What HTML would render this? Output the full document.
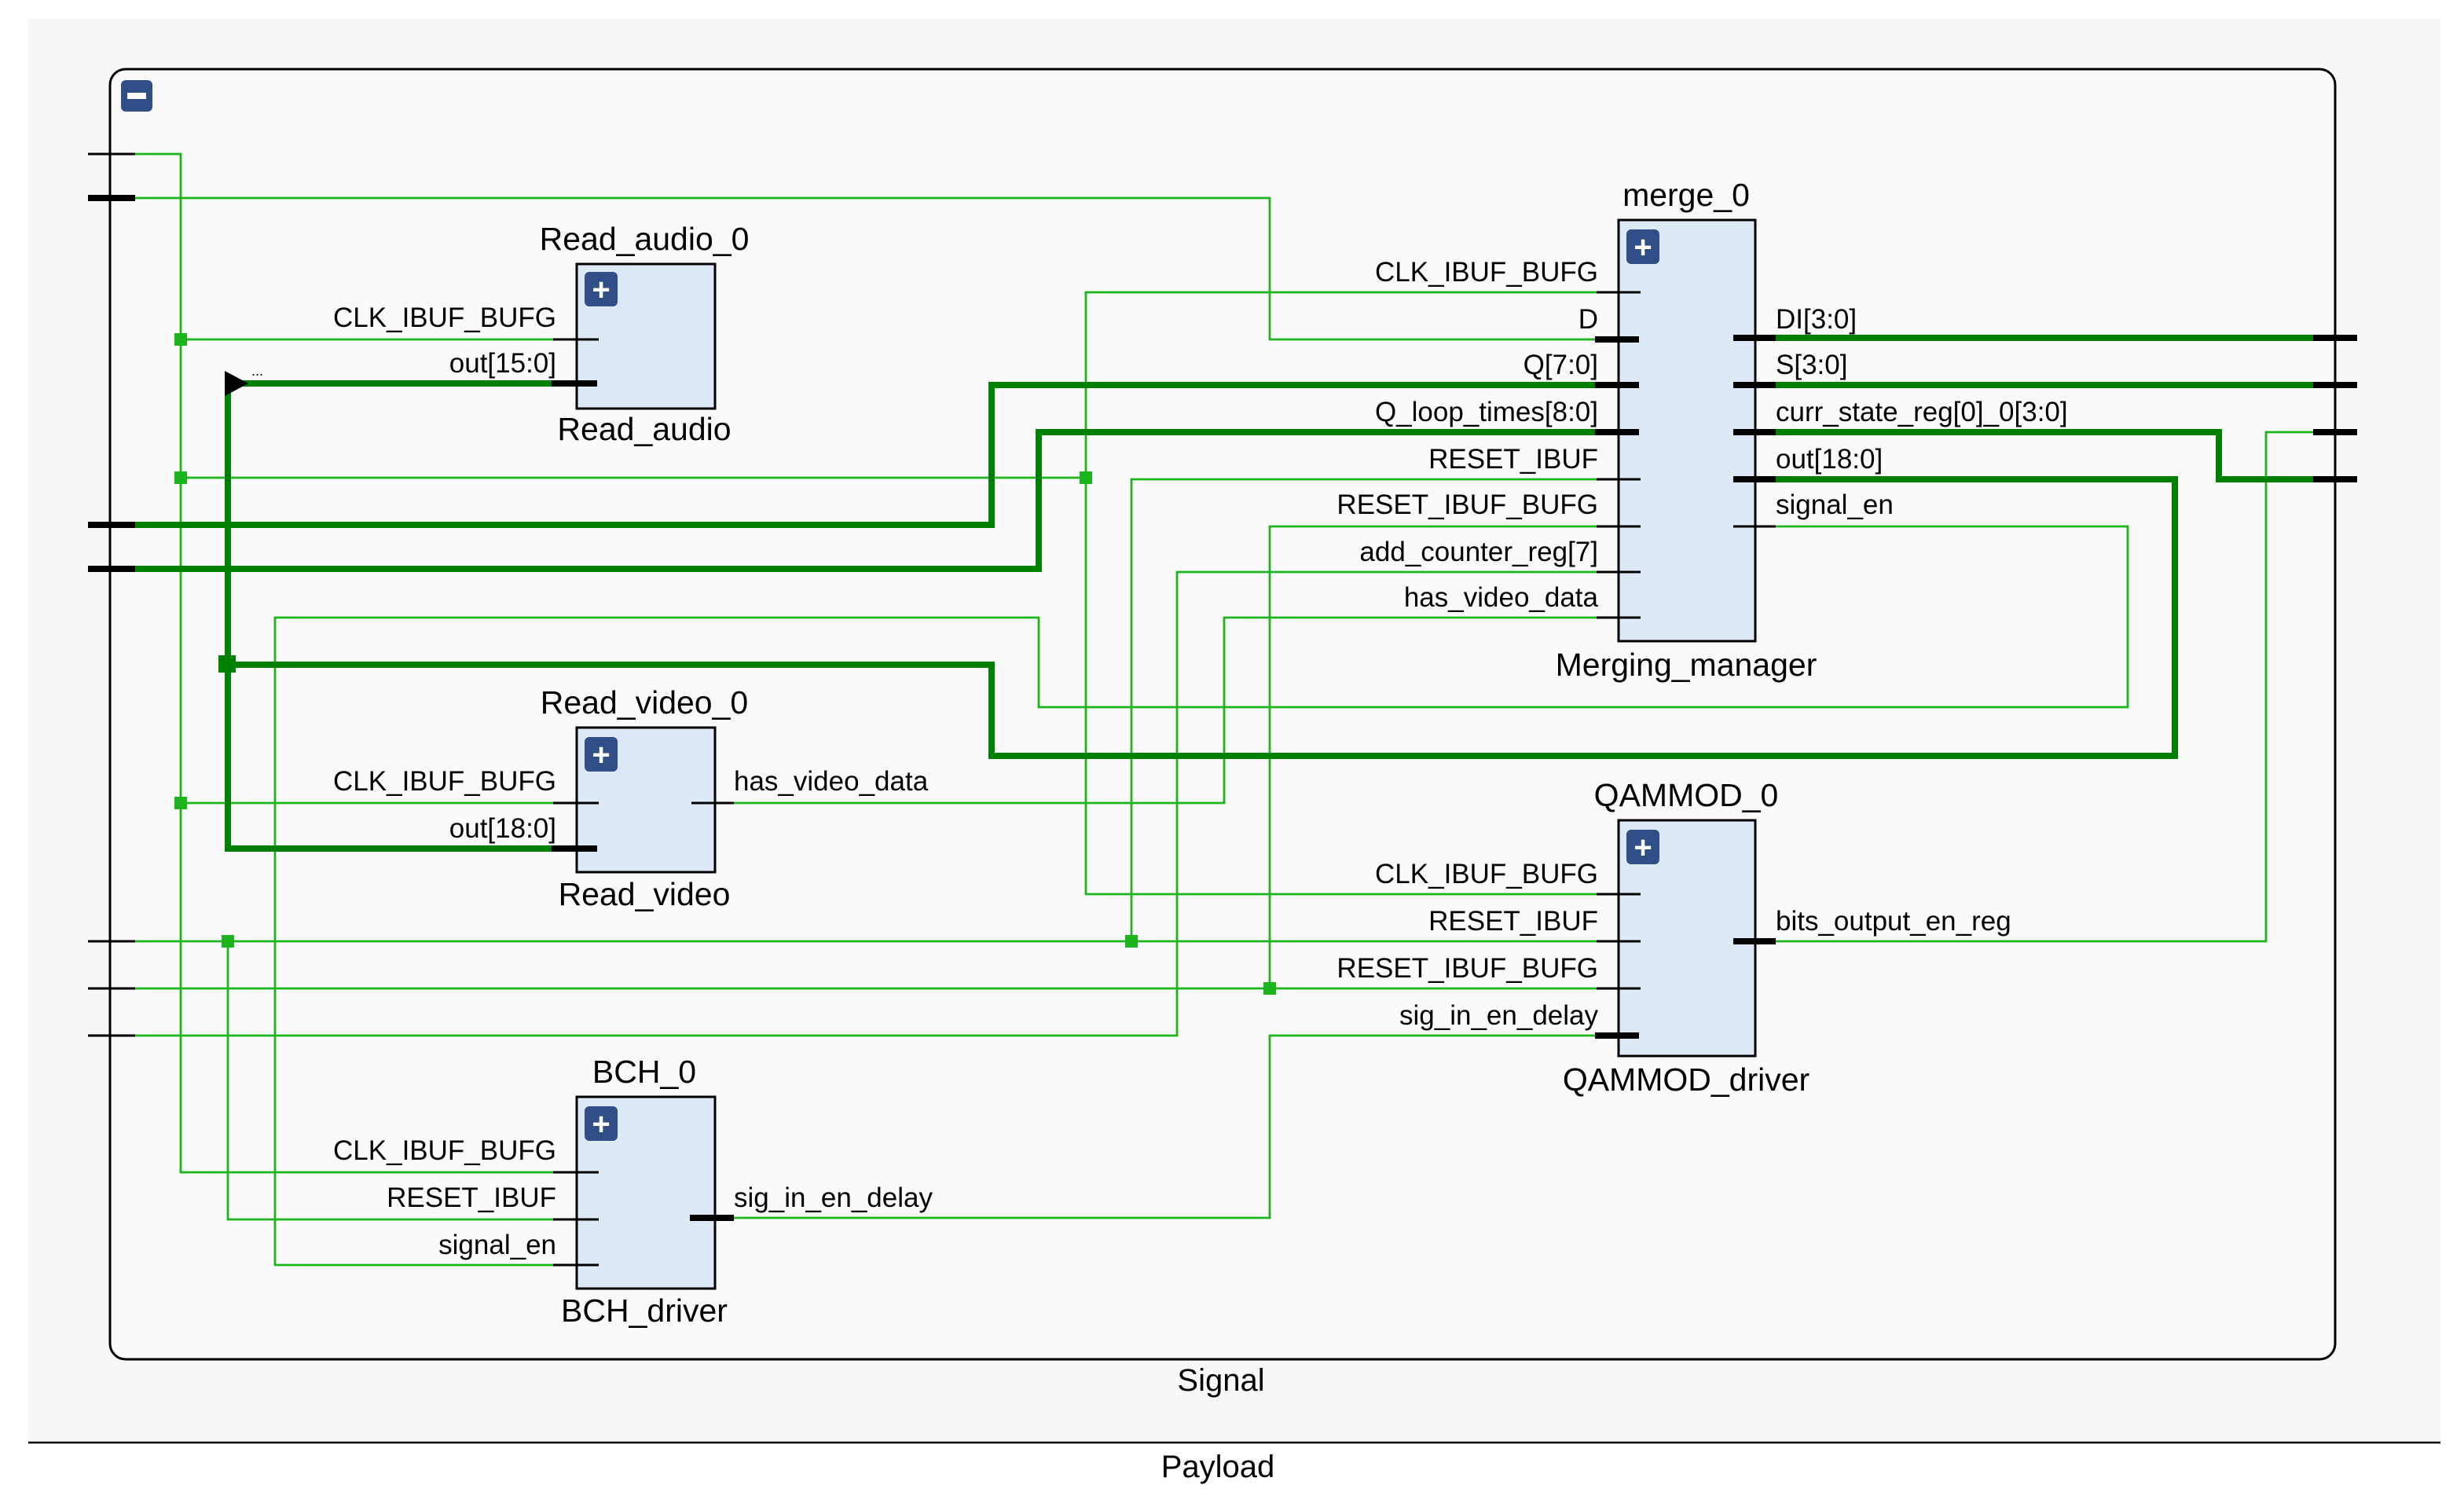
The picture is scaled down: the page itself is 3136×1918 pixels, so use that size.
<!DOCTYPE html>
<html><head><meta charset="utf-8"><style>html,body{margin:0;padding:0;background:#fff}svg{display:block}</style></head>
<body>
<svg width="3136" height="1918" viewBox="0 0 1568 959" xmlns="http://www.w3.org/2000/svg" font-family="Liberation Sans, sans-serif">
<rect x="0" y="0" width="1568" height="959" fill="#fff"/>
<rect x="18" y="12" width="1535" height="906" fill="#f8f8f8"/>
<line x1="18" y1="918" x2="1553" y2="918" stroke="#000" stroke-width="1.2"/>
<text x="775" y="940" font-size="20" text-anchor="middle">Payload</text>
<rect x="70" y="44" width="1416" height="821" rx="10" fill="#fafafa" stroke="#000" stroke-width="1.5"/>
<text x="777" y="885" font-size="20" text-anchor="middle">Signal</text>
<rect x="77" y="51" width="20" height="20" rx="3" fill="#2f4f86"/>
<rect x="81" y="59" width="12" height="4" fill="#fff"/>

<g fill="none" stroke="#1eb41e" stroke-width="1.4">
<polyline points="86,98 115,98 115,746 380,746"/>
<line x1="115" y1="216" x2="380" y2="216"/>
<line x1="115" y1="304" x2="691" y2="304"/>
<line x1="115" y1="511" x2="380" y2="511"/>
<polyline points="1043,186 691,186 691,569 1043,569"/>
<polyline points="1043,305 720,305 720,599"/>
<line x1="86" y1="599" x2="1043" y2="599"/>
<polyline points="145,599 145,776 380,776"/>
<polyline points="1043,335 808,335 808,629"/>
<line x1="86" y1="629" x2="1043" y2="629"/>
<polyline points="86,659 749,659 749,364 1043,364"/>
<polyline points="1043,393 779,393 779,511 466,511"/>
<polyline points="86,126 808,126 808,216 1043,216"/>
<polyline points="380,805 175,805 175,393 661,393 661,450 1354,450 1354,335 1103,335"/>
<polyline points="466,775 808,775 808,659 1043,659"/>
<polyline points="1103,599 1442,599 1442,275 1472,275"/>
</g>
<g fill="#1eb41e">
<rect x="111" y="212" width="8" height="8"/><rect x="111" y="300" width="8" height="8"/><rect x="111" y="507" width="8" height="8"/>
<rect x="687" y="300" width="8" height="8"/><rect x="716" y="595" width="8" height="8"/><rect x="141" y="595" width="8" height="8"/>
<rect x="804" y="625" width="8" height="8"/>
</g>
<g fill="none" stroke="#008000" stroke-width="4">
<polyline points="86,334 631,334 631,245 1043,245"/>
<polyline points="86,362 661,362 661,275 1043,275"/>
<polyline points="380,244 145,244 145,540 380,540"/>
<polyline points="145,423 631,423 631,481 1384,481 1384,305 1103,305"/>
<line x1="1103" y1="215" x2="1472" y2="215"/>
<line x1="1103" y1="245" x2="1472" y2="245"/>
<polyline points="1103,275 1412,275 1412,305 1472,305"/>
</g>
<rect x="139" y="417" width="11" height="11" fill="#008000"/>
<polygon points="143,236 158,244 143,252" fill="#000"/>
<text x="160" y="239" font-size="9">...</text>

<g stroke="#000">
<line x1="56" y1="98" x2="86" y2="98" stroke-width="1.5"/>
<line x1="56" y1="126" x2="86" y2="126" stroke-width="4"/>
<line x1="56" y1="334" x2="86" y2="334" stroke-width="4"/>
<line x1="56" y1="362" x2="86" y2="362" stroke-width="4"/>
<line x1="56" y1="599" x2="86" y2="599" stroke-width="1.5"/>
<line x1="56" y1="629" x2="86" y2="629" stroke-width="1.5"/>
<line x1="56" y1="659" x2="86" y2="659" stroke-width="1.5"/>
<line x1="1472" y1="215" x2="1500" y2="215" stroke-width="4"/>
<line x1="1472" y1="245" x2="1500" y2="245" stroke-width="4"/>
<line x1="1472" y1="275" x2="1500" y2="275" stroke-width="4"/>
<line x1="1472" y1="305" x2="1500" y2="305" stroke-width="4"/>
</g>

<g stroke="#000" stroke-width="1.5" fill="#dde9f7">
<rect x="367" y="168" width="88" height="92"/>
<rect x="367" y="463" width="88" height="92"/>
<rect x="367" y="698" width="88" height="122"/>
<rect x="1030" y="140" width="87" height="268"/>
<rect x="1030" y="522" width="87" height="150"/>
</g>
<g fill="#2f4f86">
<rect x="372" y="173" width="21" height="22" rx="3"/><rect x="372" y="469" width="21" height="22" rx="3"/>
<rect x="372" y="704" width="21" height="22" rx="3"/><rect x="1035" y="146" width="21" height="22" rx="3"/>
<rect x="1035" y="528" width="21" height="22" rx="3"/>
</g>
<g fill="#fff" font-size="20" font-weight="bold" text-anchor="middle">
<text x="382.5" y="191">+</text><text x="382.5" y="487">+</text><text x="382.5" y="722">+</text>
<text x="1045.5" y="164">+</text><text x="1045.5" y="546">+</text>
</g>
<g stroke="#000">
<g stroke-width="1.5">
<line x1="352" y1="216" x2="381" y2="216"/><line x1="352" y1="511" x2="381" y2="511"/>
<line x1="440" y1="511" x2="467" y2="511"/>
<line x1="352" y1="746" x2="381" y2="746"/><line x1="352" y1="776" x2="381" y2="776"/><line x1="352" y1="805" x2="381" y2="805"/>
<line x1="1016" y1="186" x2="1044" y2="186"/><line x1="1016" y1="305" x2="1044" y2="305"/><line x1="1016" y1="335" x2="1044" y2="335"/>
<line x1="1016" y1="364" x2="1044" y2="364"/><line x1="1016" y1="393" x2="1044" y2="393"/>
<line x1="1103" y1="335" x2="1130" y2="335"/>
<line x1="1016" y1="569" x2="1044" y2="569"/><line x1="1016" y1="599" x2="1044" y2="599"/><line x1="1016" y1="629" x2="1044" y2="629"/>
</g>
<g stroke-width="4">
<line x1="351" y1="244" x2="380" y2="244"/><line x1="351" y1="540" x2="380" y2="540"/>
<line x1="439" y1="775" x2="467" y2="775"/>
<line x1="1015" y1="216" x2="1043" y2="216"/><line x1="1015" y1="245" x2="1043" y2="245"/><line x1="1015" y1="275" x2="1043" y2="275"/>
<line x1="1103" y1="215" x2="1130" y2="215"/><line x1="1103" y1="245" x2="1130" y2="245"/><line x1="1103" y1="275" x2="1130" y2="275"/><line x1="1103" y1="305" x2="1130" y2="305"/>
<line x1="1015" y1="659" x2="1043" y2="659"/><line x1="1103" y1="599" x2="1130" y2="599"/>
</g>
</g>

<g font-size="20.5" text-anchor="middle" fill="#000">
<text x="410" y="159">Read_audio_0</text><text x="410" y="280">Read_audio</text>
<text x="410" y="454">Read_video_0</text><text x="410" y="576">Read_video</text>
<text x="410" y="689">BCH_0</text><text x="410" y="841">BCH_driver</text>
<text x="1073" y="131">merge_0</text><text x="1073" y="430">Merging_manager</text>
<text x="1073" y="513">QAMMOD_0</text><text x="1073" y="694">QAMMOD_driver</text>
</g>
<g font-size="17.5" fill="#000" text-anchor="end">
<text x="354" y="208">CLK_IBUF_BUFG</text><text x="354" y="237">out[15:0]</text>
<text x="354" y="503">CLK_IBUF_BUFG</text><text x="354" y="533">out[18:0]</text>
<text x="354" y="738">CLK_IBUF_BUFG</text><text x="354" y="768">RESET_IBUF</text><text x="354" y="798">signal_en</text>
<text x="1017" y="179">CLK_IBUF_BUFG</text><text x="1017" y="209">D</text><text x="1017" y="238">Q[7:0]</text>
<text x="1017" y="268">Q_loop_times[8:0]</text><text x="1017" y="298">RESET_IBUF</text><text x="1017" y="327">RESET_IBUF_BUFG</text>
<text x="1017" y="357">add_counter_reg[7]</text><text x="1017" y="386">has_video_data</text>
<text x="1017" y="562">CLK_IBUF_BUFG</text><text x="1017" y="592">RESET_IBUF</text><text x="1017" y="622">RESET_IBUF_BUFG</text><text x="1017" y="652">sig_in_en_delay</text>
</g>
<g font-size="17.5" fill="#000">
<text x="467" y="503">has_video_data</text><text x="467" y="768">sig_in_en_delay</text>
<text x="1130" y="209">DI[3:0]</text><text x="1130" y="238">S[3:0]</text><text x="1130" y="268">curr_state_reg[0]_0[3:0]</text>
<text x="1130" y="298">out[18:0]</text><text x="1130" y="327">signal_en</text>
<text x="1130" y="592">bits_output_en_reg</text>
</g>
</svg>
</body></html>
